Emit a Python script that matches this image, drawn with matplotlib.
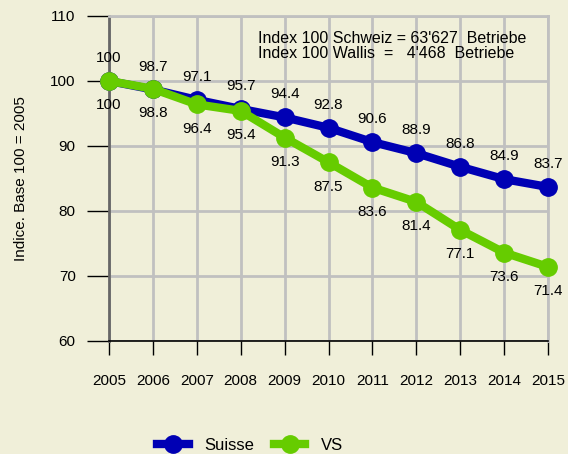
import matplotlib.pyplot as plt

years = [2005, 2006, 2007, 2008, 2009, 2010, 2011, 2012, 2013, 2014, 2015]
suisse = [100, 98.7, 97.1, 95.7, 94.4, 92.8, 90.6, 88.9, 86.8, 84.9, 83.7]
vs = [100, 98.8, 96.4, 95.4, 91.3, 87.5, 83.6, 81.4, 77.1, 73.6, 71.4]
yticks = [60, 70, 80, 90, 100, 110]

plt.rcParams['font.family'] = ['Liberation Sans', 'DejaVu Sans']
bg = '#f0efd9'

fig = plt.figure(figsize=(5.68, 4.54), dpi=100, facecolor=bg)
ax = fig.add_axes([0.1919, 0.2489, 0.7729, 0.7159], facecolor=bg)

ax.plot(years, suisse, color='#0000b4', lw=6, marker='o', ms=12.5,
        label='Suisse', clip_on=False, zorder=3)
ax.plot(years, vs, color='#66cc00', lw=6, marker='o', ms=12.5,
        label='VS', clip_on=False, zorder=4)

# etiquettes: Suisse au-dessus, VS en dessous
for x, a, b in zip(years, suisse, vs):
    ax.annotate(f'{a:g}', (x, a), xytext=(0, 16.5), textcoords='offset points',
                ha='center', va='center', fontsize=11)
    ax.annotate(f'{b:g}', (x, b), xytext=(0, -17.5), textcoords='offset points',
                ha='center', va='center', fontsize=11)

ax.set_xlim(2005, 2015)
ax.set_ylim(60, 110)
ax.set_xticks(years)
ax.set_yticks(yticks)
ax.grid(True, color='#c0c0c0', lw=2)
ax.set_axisbelow(True)

for s in ['top', 'right']:
    ax.spines[s].set_color('#c0c0c0')
    ax.spines[s].set_linewidth(2)
ax.spines['left'].set_color('#666666')
ax.spines['left'].set_linewidth(2)
ax.spines['bottom'].set_color('black')
ax.spines['bottom'].set_linewidth(1.2)

ax.tick_params(axis='y', direction='out', length=16, width=1, pad=8, labelsize=11)
ax.tick_params(axis='x', direction='out', length=10, width=1, pad=14, labelsize=11)

ax.set_ylabel('Indice. Base 100 = 2005', fontsize=11, labelpad=16)

ax.text(0.34, 0.955, "Index 100 Schweiz = 63'627  Betriebe\nIndex 100 Wallis  =   4'468  Betriebe",
        transform=ax.transAxes, ha='left', va='top', fontsize=11.5, linespacing=1.0)

fig.legend(loc='lower center', ncol=2, frameon=False, fontsize=12,
           bbox_to_anchor=(0.44, -0.03), handlelength=1.9, handletextpad=0.9,
           columnspacing=1.2)

fig.savefig('out.png', dpi=100, facecolor=bg)
